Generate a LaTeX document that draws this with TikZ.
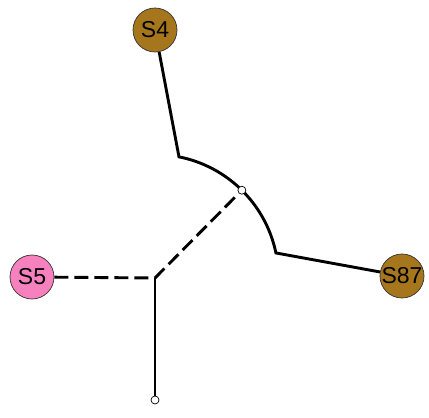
\documentclass[tikz,border=0pt]{standalone}
\usepackage{fontspec}
\setmainfont{Liberation Sans}
\usetikzlibrary{positioning}
\pgfdeclarelayer{background}
\pgfsetlayers{background,main}
\definecolor{leafbrown}{HTML}{A6761D}
\definecolor{leafpink}{HTML}{F781BF}

\begin{document}
\begin{tikzpicture}[x=1pt, y=1pt,
    leaf/.style={circle, draw=black!80, line width=0.7pt, minimum size=44pt, inner sep=0pt, font=\fontsize{23}{26}\selectfont},
    tip/.style={circle, draw=black, fill=white, line width=0.7pt, minimum size=8pt, inner sep=0pt},
    branch/.style={line width=2.9pt, line join=miter},
    gap/.style={branch, dash pattern=on 14pt off 6pt}]
   \useasboundingbox (0,0) rectangle (429,418);
   \node[leaf, fill=leafbrown] (s4) at (155,388) {S4};
   \node[leaf, fill=leafpink] (s5) at (32,141) {S5};
   \node[leaf, fill=leafbrown] (s87) at (402,142) {S87};
   \coordinate (j) at (155,140);
   \node[tip] (n1) at ([shift={(45.3:123.5)}]j) {};
   \node[tip] (root) at (155,18) {};
   \coordinate (b4) at ([shift={(78.8:123.5)}]j);

   \begin{pgfonlayer}{background}
    \draw[branch] (s4) -- (b4) arc[start angle=78.8, end angle=11.7, radius=123.5] -- (s87);
    \draw[gap] (s5) -- (j) -- (n1);
    \draw[branch] (j) -- (root);
   \end{pgfonlayer}
\end{tikzpicture}
\end{document}
